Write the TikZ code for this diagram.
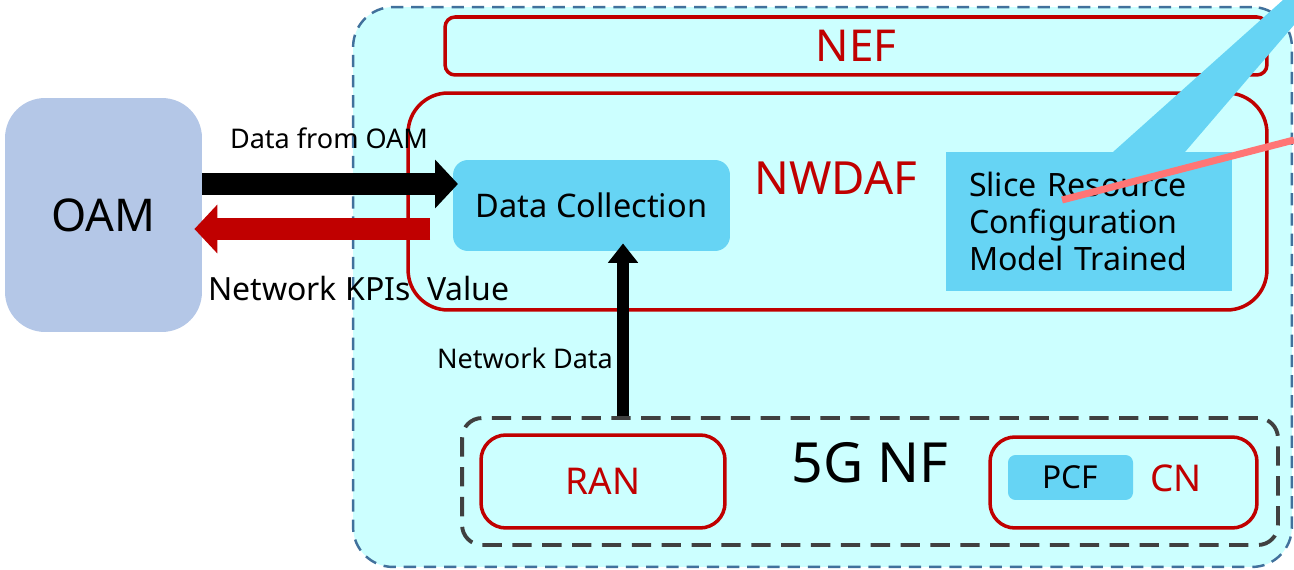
\documentclass[tikz,border=0pt]{standalone}
\usepackage{fontspec}
\setmainfont{Noto Sans}
\usetikzlibrary{arrows.meta,positioning}
\definecolor{zonecyan}{HTML}{CCFFFF}
\definecolor{zoneline}{HTML}{41719C}
\definecolor{nfred}{HTML}{C00000}
\definecolor{fnblue}{HTML}{66D4F4}
\definecolor{oamblue}{HTML}{B4C7E7}
\definecolor{nfgray}{HTML}{404040}
\definecolor{pinkline}{HTML}{FF7575}
\tikzset{
  blk/.style={rectangle,inner sep=0pt,align=center},
  zoneblk/.style={blk,draw=zoneline,fill=zonecyan,line width=1.4pt,dash pattern=on 7pt off 4.5pt,rounded corners=0.8cm},
  redblk/.style={blk,draw=nfred,line width=2pt,text=nfred},
  fnblk/.style={blk,fill=fnblue},
  oamblk/.style={blk,fill=oamblue,rounded corners=0.8cm,font=\fontsize{25.7}{30}\selectfont},
  nfblk/.style={blk,draw=nfgray,line width=2.2pt,dash pattern=on 11pt off 6pt,rounded corners=0.4cm},
  lbl/.style={inner sep=0pt,align=center},
  bigarr/.style={line width=13pt,-{Triangle[length=13pt,width=27pt]}},
  ndarr/.style={line width=7pt,-{Triangle[length=11pt,width=16.5pt]}}
}
\begin{document}
\begin{tikzpicture}[x=0.02cm,y=-0.02cm]
  \useasboundingbox (0,0) rectangle (1294,570);
  \node[zoneblk,minimum width=18.78cm,minimum height=11.2cm] (zone) at (822.5,287) {};
  \node[redblk,rounded corners=0.2cm,minimum width=16.44cm,minimum height=1.16cm,font=\fontsize{25}{28}\selectfont] (nef) at (856,46) {NEF};
  \node[redblk,rounded corners=0.8cm,minimum width=17.18cm,minimum height=4.34cm] (nwdaf) at (837.5,201.5) {};
  \node[lbl,text=nfred,font=\fontsize{26}{30}\selectfont] (nwdaflbl) at (836,178) {NWDAF};

  \fill[fnblue] (1113,152) -- (1283,0) -- (1294,0) -- (1294,25) -- (1185,152) -- cycle;

  \node[fnblk,rounded corners=0.3cm,minimum width=5.54cm,minimum height=1.82cm,font=\fontsize{18.5}{22}\selectfont] (dc) at (591.5,205.5) {Data Collection};
  \node[fnblk,minimum width=5.72cm,minimum height=2.78cm,text width=4.8cm,align=left,font=\fontsize{18.3}{21.2}\selectfont] (slice) at (1089,221.5) {Slice Resource\\Configuration\\Model Trained};
  \draw[pinkline,line width=4pt] (1062,200) -- (1294,140);

  \node[oamblk,minimum width=3.94cm,minimum height=4.68cm] (oam) at (103.5,215) {OAM};

  \node[nfblk,minimum width=16.32cm,minimum height=2.54cm] (nf) at (870,481.5) {};
  \node[lbl,font=\fontsize{31.5}{36}\selectfont] (nflbl) at (870,463) {5G NF};
  \node[redblk,rounded corners=0.5cm,minimum width=4.88cm,minimum height=1.86cm,font=\fontsize{21}{24}\selectfont] (ran) at (603,481.5) {RAN};
  \node[redblk,rounded corners=0.5cm,minimum width=5.34cm,minimum height=1.82cm] (cn) at (1123.5,482.5) {};
  \node[fnblk,rounded corners=0.15cm,minimum width=2.5cm,minimum height=0.9cm,font=\fontsize{18}{20}\selectfont] (pcf) at (1070.5,477.5) {PCF};
  \node[lbl,text=nfred,font=\fontsize{21}{24}\selectfont] (cnlbl) at (1176,478) {CN};

  \coordinate (toy) at (0,184);
  \coordinate (kpistart) at (430,229);
  \coordinate (ndx) at (623,0);
  \draw[bigarr,shorten >=-3pt] (oam.east |- toy) -- (dc.west |- toy);
  \draw[bigarr,nfred,shorten >=-4.5pt] (kpistart) -- (oam.east |- kpistart);
  \draw[ndarr,shorten >=-4.5pt] (nf.north -| ndx) -- (dc.south -| ndx);

  \node[lbl,font=\fontsize{15.4}{18}\selectfont] (fromoam) at (329,138) {Data from OAM};
  \node[lbl,font=\fontsize{18.2}{22}\selectfont] (kpis) at (359,289) {Network KPIs~ Value};
  \node[lbl,font=\fontsize{15.4}{18}\selectfont] (ndata) at (525,358) {Network Data};
\end{tikzpicture}
\end{document}
